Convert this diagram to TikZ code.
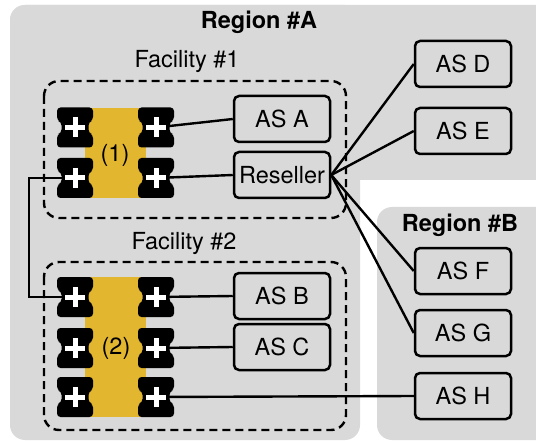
\documentclass[tikz,border=0pt]{standalone}
\usepackage{fontspec}
\setmainfont{TeX Gyre Heros}
\definecolor{regiongray}{RGB}{217,217,217}
\definecolor{ixpyellow}{RGB}{227,182,48}
\tikzset{
  txt/.style={inner sep=0pt, font=\fontsize{23.5}{28}\selectfont},
  boldtxt/.style={inner sep=0pt, font=\fontsize{23.5}{28}\selectfont\bfseries},
  asbox/.style={draw, line width=2.5pt, rounded corners=5pt, fill=regiongray,
    minimum width=96pt, minimum height=46pt, inner sep=0pt, font=\fontsize{23.5}{28}\selectfont},
  link/.style={line width=2.4pt},
  facbox/.style={draw, line width=2.4pt, dash pattern=on 8pt off 5pt, rounded corners=15pt},
  region/.style={fill=regiongray, rounded corners=15pt},
  ixpband/.style={fill=ixpyellow},
  plug/.pic={
    \fill[black, rounded corners=3.5pt] (-18,-20) -- (18,-20) -- (18,-7) -- (13.5,-5.5) -- (13.5,5.5) -- (18,7) -- (18,20)
      -- (-18,20) -- (-18,7) -- (-13.5,5.5) -- (-13.5,-5.5) -- (-18,-7) -- cycle;
    \draw[white, line width=5pt] (-10,0) -- (10,0) (0,-10) -- (0,10);
  }
}
\begin{document}
\begin{tikzpicture}[x=1pt,y=-1pt]
\useasboundingbox (0,0) rectangle (536,441);
\clip (0,0) rectangle (536,441);
% regions
\fill[region] (10,5) rectangle (560,180);
\fill[region] (10,5) rectangle (360,440);
\fill[region] (377,207) rectangle (560,440);
\node[boldtxt] (regA) at (259,22) {Region \#A};
\node[boldtxt] (regB) at (460,225) {Region \#B};
% facilities
\node[txt] (fac1lbl) at (187,61) {Facility \#1};
\draw[facbox] (44,81) rectangle (346,218);
\node[txt] (fac2lbl) at (184,243) {Facility \#2};
\draw[facbox] (44,262) rectangle (346,430);
% IXP bands
\fill[ixpband] (85,108) rectangle (146,198);
\fill[ixpband] (85,277) rectangle (146,417);
\node[txt] (ixp1) at (115,155) {(1)};
\node[txt] (ixp2) at (116,348) {(2)};
% plug positions
\coordinate (l11) at (75,127.5);
\coordinate (l12) at (75,178);
\coordinate (r11) at (156,127.5);
\coordinate (r12) at (156,178);
\coordinate (l21) at (75,297);
\coordinate (l22) at (75,348);
\coordinate (l23) at (75,397);
\coordinate (r21) at (156,297);
\coordinate (r22) at (156,348);
\coordinate (r23) at (156,397);
% AS boxes
\node[asbox] (asA) at (282,119) {AS A};
\node[asbox] (res) at (282,175) {Reseller};
\node[asbox] (asB) at (282,296) {AS B};
\node[asbox] (asC) at (282,347) {AS C};
\node[asbox] (asD) at (463,64) {AS D};
\node[asbox] (asE) at (463,131) {AS E};
\node[asbox] (asF) at (463,271) {AS F};
\node[asbox] (asG) at (463,333) {AS G};
\node[asbox] (asH) at (463,396) {AS H};
% links
\draw[link] (r11) -- (asA.west);
\draw[link] (r12) -- (res.west);
\draw[link] (r21) -- (asB.west);
\draw[link] (r22) -- (asC.west);
\draw[link] (r23) -- (asH.west);
\draw[link] (l12) -- ++(-46,0) |- (l21);
\draw[link] (res.east) -- (asD.west);
\draw[link] (res.east) -- (asE.west);
\draw[link] (res.east) -- (asF.west);
\draw[link] (res.east) -- (asG.west);
% plugs
\foreach \p in {l11,l12,r11,r12,l21,l22,l23,r21,r22,r23}
  \pic at (\p) {plug};
\end{tikzpicture}
\end{document}
